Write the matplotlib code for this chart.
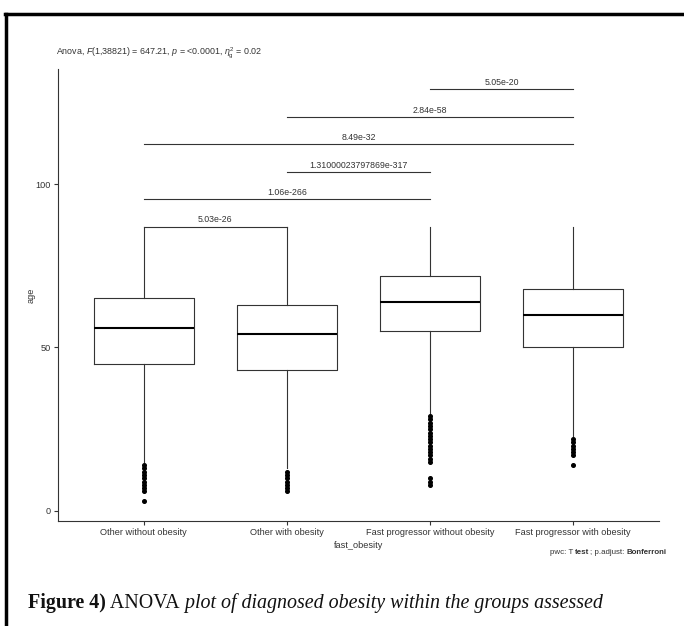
import matplotlib
matplotlib.use("Agg")
import matplotlib.pyplot as plt
from matplotlib.lines import Line2D

# Daten
groups = ["Other without obesity", "Other with obesity",
          "Fast progressor without obesity", "Fast progressor with obesity"]
q1 = [45, 43, 55, 50]
median = [56, 54, 64, 60]
q3 = [65, 63, 72, 68]
whis_lo = [15, 13, 30, 23]
whis_hi = [87, 87, 87, 87]
fliers = [
    [14, 13, 12, 11, 10, 9, 8, 7, 6, 3],
    [12, 11, 10, 9, 8, 7, 6],
    [29, 28, 27, 26, 25, 24, 23, 22, 21, 20, 19, 18, 17, 16, 15, 10, 9, 8],
    [22, 21, 20, 19, 18, 17, 14],
]

pair_a = [1, 1, 2, 1, 2, 3]
pair_b = [2, 3, 3, 4, 4, 4]
pair_y = [87, 95.4, 103.7, 112.2, 120.5, 129]
pair_p = ["5.03e-26", "1.06e-266", "1.31000023797869e-317",
          "8.49e-32", "2.84e-58", "5.05e-20"]

W, H = 684, 626
sans = "Liberation Sans"
plt.rcParams["font.family"] = [sans, "DejaVu Sans"]
plt.rcParams["mathtext.fontset"] = "custom"
plt.rcParams["mathtext.rm"] = sans
plt.rcParams["mathtext.it"] = sans + ":italic"
plt.rcParams["mathtext.bf"] = sans + ":bold"

txt = "#333333"
fs = 6.3
fig = plt.figure(figsize=(W / 100, H / 100), dpi=100)
ax = fig.add_axes([58 / W, 1 - 521 / H, 601 / W, 452 / H])

stats = []
for i in range(len(groups)):
    stats.append({"med": median[i], "q1": q1[i], "q3": q3[i],
                  "whislo": whis_lo[i], "whishi": whis_hi[i],
                  "fliers": fliers[i], "label": groups[i]})

ax.bxp(stats, positions=[1, 2, 3, 4], widths=0.7, showcaps=False,
       boxprops=dict(color="#333333", lw=0.8),
       whiskerprops=dict(color="#333333", lw=0.8),
       medianprops=dict(color="black", lw=1.5),
       flierprops=dict(marker="o", markerfacecolor="black", markeredgecolor="black",
                       markersize=2.6))

for a, b, y, p in zip(pair_a, pair_b, pair_y, pair_p):
    ax.plot([a, b], [y, y], color="#333333", lw=0.8)
    ax.annotate(p, ((a + b) / 2, y), xytext=(0, 1.5), textcoords="offset points",
                ha="center", va="bottom", fontsize=fs, color=txt)

ax.set_xlim(0.4, 4.6)
ax.set_ylim(-3.06, 135.17)
ax.set_yticks([0, 50, 100])
ax.set_xticks([1, 2, 3, 4])
ax.set_xticklabels(groups)
ax.tick_params(labelsize=fs + 0.3, labelcolor=txt, color="#333333", length=3, width=0.8, pad=2)
for s in ["top", "right"]:
    ax.spines[s].set_visible(False)
for s in ["left", "bottom"]:
    ax.spines[s].set_color("#333333")
    ax.spines[s].set_linewidth(0.8)
ax.set_xlabel("fast_obesity", fontsize=fs + 0.3, color=txt, labelpad=3)
ax.set_ylabel("age", fontsize=fs + 0.3, color=txt, labelpad=0)

fig.canvas.draw()
r = fig.canvas.get_renderer()

title = fig.text(56 / W, 1 - 53 / H,
                 r"Anova, $\mathit{F}$(1,38821) = 647.21, $\mathit{p}$ = <0.0001, $\eta_{\mathrm{g}}^{2}$ = 0.02",
                 fontsize=7, color=txt, va="center", ha="left")
# Schriftgroesse an die gemessene Breite anpassen (etwas groesser, da Vorlage schmal)
w = title.get_window_extent(r).width
title.set_fontsize(7 * 187 / w * 1.1)


def chain(x0, y, pieces, size, **kw):
    x = x0
    out = []
    for s, wgt, sty in pieces:
        t = fig.text(x / W, y, s, fontsize=size, fontweight=wgt, style=sty,
                     va="center", ha="left", **kw)
        x = t.get_window_extent(r).x1
        out.append(t)
    return x, out


pwc = [("pwc: T ", "normal", "normal"), ("test", "bold", "normal"),
       ("; p.adjust: ", "normal", "normal"), ("Bonferroni", "bold", "normal")]
end, tmp = chain(1000, 0.5, pwc, 5, color=txt)
size_pwc = 5 * 118 / (end - 1000)
for t in tmp:
    t.remove()
chain(550, 1 - 553 / H, pwc, size_pwc, color=txt)

# Bildunterschrift
cap = [("Figure 4)", "bold", "normal"), (" ANOVA", "normal", "normal"),
       (" plot of diagnosed obesity within the groups assessed", "normal", "italic")]
end, tmp = chain(28, 0.02, cap, 12, family="Liberation Serif", color="#111111")
size_cap = 12 * 574 / (end - 28)
for t in tmp:
    t.remove()
chain(28, 1 - 603 / H, cap, size_cap, family="Liberation Serif", color="#111111")

# Rahmen
fig.add_artist(Line2D([5 / W, 1], [1 - 14 / H, 1 - 14 / H], color="black", lw=2.5,
                      transform=fig.transFigure))
fig.add_artist(Line2D([6 / W, 6 / W], [0, 1 - 14 / H], color="black", lw=2.5,
                      transform=fig.transFigure))

fig.savefig("out.png", dpi=100)
